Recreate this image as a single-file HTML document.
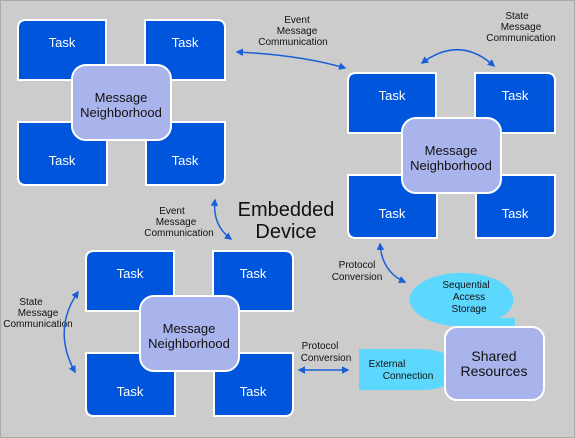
<!DOCTYPE html>
<html><head><style>
html,body{margin:0;padding:0;background:#ccc}
svg{display:block}
text{font-family:"Liberation Sans",Arial,sans-serif}
</style></head><body>
<svg width="575" height="438" viewBox="0 0 575 438" xmlns="http://www.w3.org/2000/svg">
<defs>
<marker id="a" viewBox="0 0 10 10" refX="8" refY="5" markerWidth="5" markerHeight="5" orient="auto-start-reverse"><path d="M0,0L10,5L0,10z" fill="#1a5fd8"/></marker>
<g id="cl">
 <path d="M8,0H88V60H0V8Q0,0 8,0Z" fill="#0055dd" stroke="#fff" stroke-width="2"/>
 <path d="M127,0H199Q207,0 207,8V60H127Z" fill="#0055dd" stroke="#fff" stroke-width="2"/>
 <path d="M0,102H89V165H8Q0,165 0,157Z" fill="#0055dd" stroke="#fff" stroke-width="2"/>
 <path d="M128,102H207V157Q207,165 199,165H128Z" fill="#0055dd" stroke="#fff" stroke-width="2"/>
 <rect x="54" y="45" width="99" height="75" rx="14" fill="#aab4ec" stroke="#fff" stroke-width="2"/>
 <g fill="#fff" font-size="13" text-anchor="middle">
  <text x="44" y="27">Task</text><text x="167" y="27">Task</text>
  <text x="44" y="145">Task</text><text x="167" y="145">Task</text>
 </g>
 <g fill="#111" font-size="13" text-anchor="middle">
  <text x="103" y="82">Message</text><text x="103" y="97">Neighborhood</text>
 </g>
</g>
</defs>
<rect x="0.5" y="0.5" width="574" height="437" fill="#ccc" stroke="#aaa"/>
<use href="#cl" x="18" y="20"/>
<use href="#cl" x="348" y="73"/>
<use href="#cl" x="86" y="251"/>

<g fill="#111" font-size="10" text-anchor="middle">
 <text x="297" y="23">Event</text><text x="297" y="34">Message</text><text x="293" y="45">Communication</text>
 <text x="517" y="19">State</text><text x="521" y="30">Message</text><text x="521" y="41">Communication</text>
 <text x="172" y="214">Event</text><text x="176" y="225">Message</text><text x="179" y="236">Communication</text>
 <text x="31" y="305">State</text><text x="38" y="316">Message</text><text x="38" y="327">Communication</text>
 <text x="357" y="268">Protocol</text><text x="357" y="280">Conversion</text>
 <text x="320" y="349">Protocol</text><text x="326" y="361">Conversion</text>
</g>
<text x="286" y="216" font-size="20" fill="#111" text-anchor="middle">Embedded</text>
<text x="286" y="238" font-size="20" fill="#111" text-anchor="middle">Device</text>

<g fill="none" stroke="#1a5fd8" stroke-width="1.5">
 <path d="M237,52Q300,55 345,68" marker-start="url(#a)" marker-end="url(#a)"/>
 <path d="M422,63Q460,35 494,66" marker-start="url(#a)" marker-end="url(#a)"/>
 <path d="M215,200Q212,225 231,239" marker-start="url(#a)" marker-end="url(#a)"/>
 <path d="M78,292Q52,330 75,372" marker-start="url(#a)" marker-end="url(#a)"/>
 <path d="M380,244Q382,272 405,282" marker-start="url(#a)" marker-end="url(#a)"/>
 <path d="M299,370H348" marker-start="url(#a)" marker-end="url(#a)"/>
</g>

<path d="M410,296A52,27 0 1 1 500,318H515V326H470A52,27 0 0 1 410,296Z" fill="#5cd8ff"/>
<g fill="#111" font-size="10" text-anchor="middle">
 <text x="466" y="288">Sequential</text><text x="469" y="300">Access</text><text x="469" y="312">Storage</text>
</g>
<path d="M359,349H420Q455,350 455,370Q455,390 420,390H359Z" fill="#5cd8ff"/>
<g fill="#111" font-size="10" text-anchor="middle">
 <text x="387" y="367">External</text><text x="408" y="379">Connection</text>
</g>
<rect x="445" y="327" width="99" height="73" rx="12" fill="#aab4ec" stroke="#fff" stroke-width="2"/>
<text x="494" y="361" font-size="14" fill="#111" text-anchor="middle">Shared</text>
<text x="494" y="376" font-size="14" fill="#111" text-anchor="middle">Resources</text>
</svg>
</body></html>
